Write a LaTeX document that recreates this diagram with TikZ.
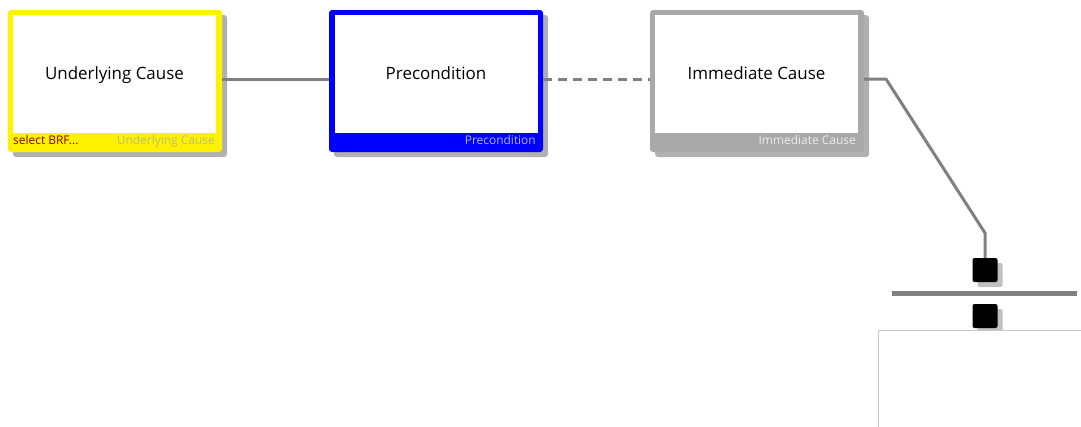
\documentclass[tikz,border=0pt]{standalone}
\usepackage{fontspec}
\setmainfont{Open Sans}
\usetikzlibrary{calc}
\definecolor{conn}{HTML}{808080}
\definecolor{shade}{HTML}{B0B0B0}
\definecolor{boxgray}{HTML}{A9A9A9}
\definecolor{lblyel}{HTML}{BDBD78}
\definecolor{lblblue}{HTML}{B4B4FF}
\definecolor{lblred}{HTML}{8B0000}
\begin{document}
\begin{tikzpicture}[x=1bp,y=-1bp,
  outerbox/.style={rounded corners=3bp, minimum width=214bp, minimum height=142bp, inner sep=0pt, draw=none},
  shadowbox/.style={outerbox, fill=shade},
  innerbox/.style={fill=white, minimum width=203bp, minimum height=118bp, inner sep=0pt},
  title/.style={font=\fontsize{17}{20}\selectfont, inner sep=0pt, anchor=base},
  small/.style={font=\fontsize{12}{13}\selectfont, inner sep=0pt},
  link/.style={draw=conn, line width=3bp},
  junc/.style={fill=black, rounded corners=2bp, minimum width=25bp, minimum height=24bp, inner sep=0pt},
  juncshadow/.style={fill=shade!80, rounded corners=2bp, minimum width=25bp, minimum height=24bp, inner sep=0pt}
]
\useasboundingbox (0,0) rectangle (1081,426);
% shadows
\node[shadowbox] at (120,86) {};
\node[shadowbox] at (441,86) {};
\node[shadowbox] at (762,86) {};
% box 1
\node[outerbox, fill=yellow] (ul) at (115,81) {};
\node[innerbox] (uli) at (114.5,74) {};
\node[title] (ult) at (114.5,79) {Underlying Cause};
\node[small, text=lblred, anchor=base west] (ulsel) at (13,144) {select BRF...};
\node[small, text=lblyel, anchor=base east] (ullab) at (215,144) {Underlying Cause};
% box 2
\node[outerbox, fill=blue] (pc) at (436,81) {};
\node[innerbox] (pci) at (436,74) {};
\node[title] (pct) at (436,79) {Precondition};
\node[small, text=lblblue, anchor=base east] (pclab) at (536,144) {Precondition};
% box 3
\node[outerbox, fill=boxgray] (ic) at (757,81) {};
\node[innerbox] (ici) at (756.5,74) {};
\node[title] (ict) at (756.5,79) {Immediate Cause};
\node[small, text=white!92!black, anchor=base east] (iclab) at (856,144) {Immediate Cause};
% connectors
\draw[link] ([yshift=2bp]ul.east) -- ([yshift=2bp]pc.west);
\draw[link, dash pattern=on 9bp off 6bp] ([yshift=2bp]pc.east) -- ([yshift=2bp]ic.west);
% junction
\node[juncshadow] at (990,275) {};
\node[junc] (j1) at (985,270) {};
\node[juncshadow] at (990,321) {};
\coordinate (bend1) at (886,79);
\coordinate (bend2) at (985,233);
\draw[link, line join=round] ([yshift=2bp]ic.east) -- (bend1) -- (bend2) -- (j1.north);
\coordinate (barL) at (892,293.5);
\coordinate (barR) at (1077,293.5);
\draw[draw=conn, line width=4.5bp] (barL) -- (barR);
% next box
\node[draw=black!22, fill=white, line width=1bp, anchor=north west, minimum width=230bp, minimum height=120bp, inner sep=0pt] (nx) at (878,329.5) {};
\node[junc] (j2) at (985,316) {};
\end{tikzpicture}
\end{document}
